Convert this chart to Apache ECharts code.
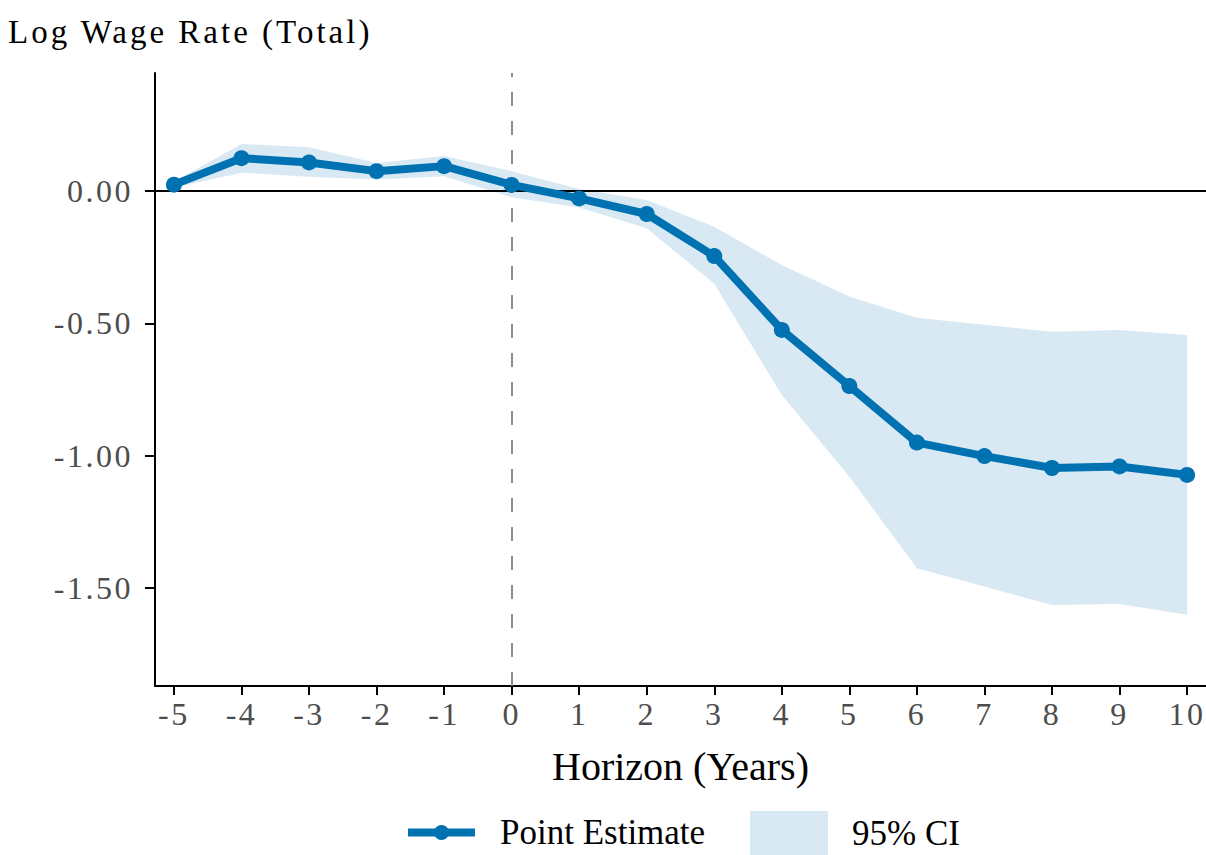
<!DOCTYPE html>
<html>
<head>
<meta charset="utf-8">
<script src="https://cdn.jsdelivr.net/npm/echarts@6/dist/echarts.min.js"></script>
<style>
  html, body { margin: 0; padding: 0; background: #ffffff; }
  #chart { width: 1206px; height: 855px; }
</style>
</head>
<body>
<div id="chart"></div>
<script>
// ---- Data ----
var horizon = [-5, -4, -3, -2, -1, 0, 1, 2, 3, 4, 5, 6, 7, 8, 9, 10];
var pointEstimate = [0.024, 0.124, 0.108, 0.075, 0.094, 0.023, -0.028, -0.087, -0.246, -0.525, -0.737, -0.951, -1.002, -1.047, -1.041, -1.073];
var ciUpper = [0.035, 0.178, 0.165, 0.106, 0.132, 0.075, 0.008, -0.034, -0.135, -0.280, -0.399, -0.479, -0.506, -0.532, -0.525, -0.544];
var ciLower = [0.012, 0.069, 0.054, 0.043, 0.056, -0.024, -0.062, -0.141, -0.351, -0.771, -1.080, -1.426, -1.495, -1.565, -1.561, -1.602];
var xTicks = [-5, -4, -3, -2, -1, 0, 1, 2, 3, 4, 5, 6, 7, 8, 9, 10];
var yTicks = [-1.5, -1.0, -0.5, 0.0];
var titleText = 'Log Wage Rate (Total)';
var xAxisTitle = 'Horizon (Years)';
var seriesNames = ['Point Estimate', '95% CI'];

// ---- Styling ----
var FONT = 'Liberation Serif';
var BLUE = '#0072B2';
var BAND_SOLID = '#d9e9f3';
var TICK_GREY = '#4d4d4d';

function pairs(xs, ys) { return xs.map(function (x, i) { return [x, ys[i]]; }); }
var bandData = horizon.map(function (x, i) { return [x, ciLower[i], ciUpper[i]]; });

var chart = echarts.init(document.getElementById('chart'), null, { renderer: 'svg' });

function renderBand(params, api) {
  if (params.dataIndex !== 0) return null;
  var pts = [];
  var i;
  for (i = 0; i < horizon.length; i++) pts.push(api.coord([horizon[i], ciUpper[i]]));
  for (i = horizon.length - 1; i >= 0; i--) pts.push(api.coord([horizon[i], ciLower[i]]));
  return {
    type: 'polygon',
    shape: { points: pts },
    style: { fill: BAND_SOLID, stroke: null }
  };
}

var option = {
  animation: false,
  backgroundColor: '#ffffff',
  title: {
    text: titleText,
    left: 8,
    top: 15,
    padding: 0,
    textStyle: { fontFamily: FONT, fontSize: 33, fontWeight: 'normal', color: '#000000' }
  },
  grid: {
    left: 155, top: 73, right: 0, bottom: 169,
    containLabel: false,
    outerBoundsMode: 'none'
  },
  legend: [
    {
      data: [{ name: seriesNames[0] }],
      left: 404, top: 815,
      itemWidth: 67, itemHeight: 19,
      selectedMode: false,
      padding: 0,
      lineStyle: { width: 8 },
      textStyle: { fontFamily: FONT, fontSize: 35, color: '#000000', padding: [0, 0, 0, 20] }
    },
    {
      data: [{ name: seriesNames[1], icon: 'rect', itemStyle: { color: BAND_SOLID, borderWidth: 0 } }],
      left: 750, top: 811,
      itemWidth: 78, itemHeight: 44,
      selectedMode: false,
      padding: 0,
      textStyle: { fontFamily: FONT, fontSize: 35, color: '#000000', padding: [0, 0, 0, 19] }
    }
  ],
  xAxis: {
    type: 'value',
    min: -5.28,
    max: 10.28,
    name: xAxisTitle,
    nameLocation: 'middle',
    nameGap: 60,
    nameTextStyle: { fontFamily: FONT, fontSize: 40, color: '#000000' },
    axisLine: { show: true, onZero: false, lineStyle: { color: '#000000', width: 2 } },
    axisTick: { show: true, customValues: xTicks, length: 9, lineStyle: { color: '#000000', width: 2 } },
    axisLabel: {
      customValues: xTicks,
      margin: 12,
      fontFamily: FONT, fontSize: 32, color: TICK_GREY,
      formatter: function (v) { return String(v); }
    },
    splitLine: { show: false }
  },
  yAxis: {
    type: 'value',
    min: -1.871,
    max: 0.446,
    axisLine: { show: true, onZero: false, lineStyle: { color: '#000000', width: 2 } },
    axisTick: { show: true, customValues: yTicks, length: 10, lineStyle: { color: '#000000', width: 2 } },
    axisLabel: {
      customValues: yTicks,
      margin: 22,
      fontFamily: FONT, fontSize: 32, color: TICK_GREY,
      formatter: function (v) { return v.toFixed(2); }
    },
    splitLine: { show: false }
  },
  series: [
    {
      name: seriesNames[1],
      type: 'custom',
      data: bandData,
      encode: { x: 0, y: [1, 2] },
      renderItem: renderBand,
      color: BAND_SOLID,
      itemStyle: { color: BAND_SOLID },
      silent: true,
      clip: true,
      z: 1,
      markLine: {
        silent: true,
        symbol: 'none',
        z: 3,
        label: { show: false },
        data: [
          { yAxis: 0, lineStyle: { color: '#000000', width: 2, type: 'solid' } },
          { xAxis: 0, lineStyle: { color: '#8c8c8c', width: 2, type: [14, 15] } }
        ]
      }
    },
    {
      name: seriesNames[0],
      type: 'line',
      data: pairs(horizon, pointEstimate),
      symbol: 'circle',
      symbolSize: 16,
      showAllSymbol: true,
      color: BLUE,
      itemStyle: { color: BLUE },
      lineStyle: { color: BLUE, width: 8 },
      z: 10
    }
  ]
};

chart.setOption(option);

function applySpacing() {
  var texts = document.querySelectorAll('#chart svg text');
  texts.forEach(function (t) {
    var fs = parseFloat(getComputedStyle(t).fontSize);
    if (Math.abs(fs - 33) < 0.5) t.style.letterSpacing = '3px';
    else if (Math.abs(fs - 32) < 0.5) t.style.letterSpacing = '2.5px';
  });
}
chart.on('finished', applySpacing);
setTimeout(applySpacing, 50);
</script>
</body>
</html>
